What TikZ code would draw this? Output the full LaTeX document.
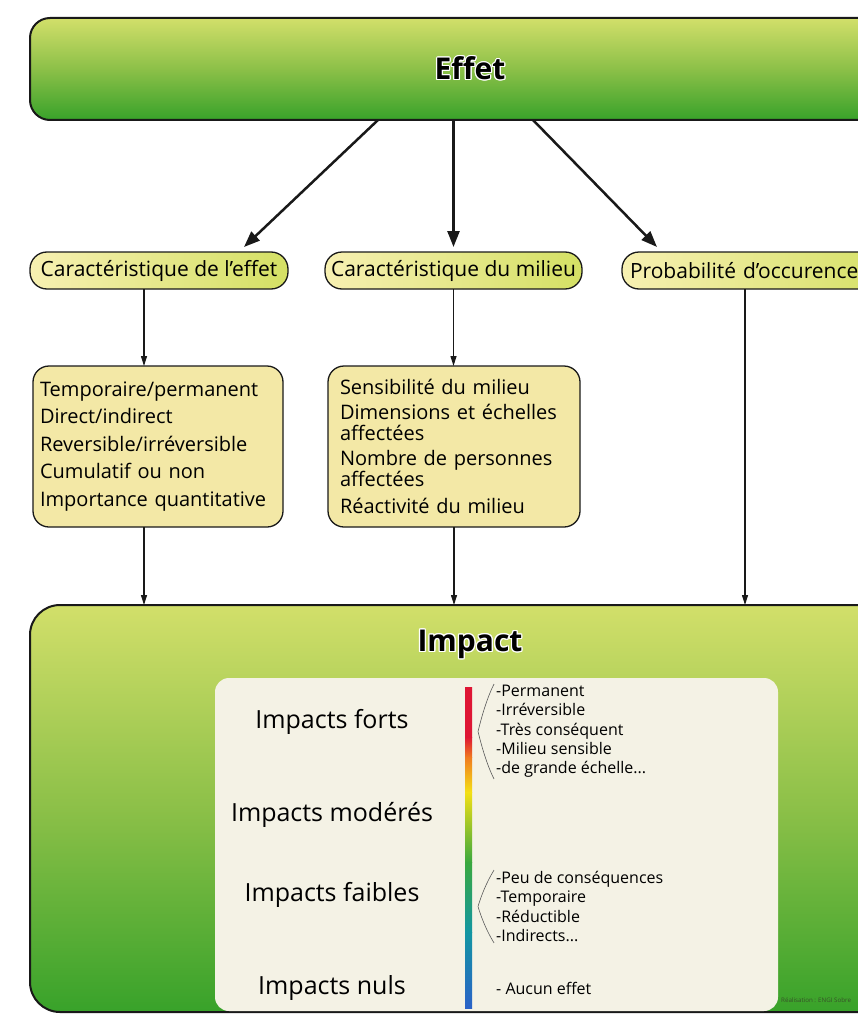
\documentclass[tikz,border=0pt]{standalone}
\usepackage{fontspec}
\setmainfont{Open Sans}
\usepackage{tikz}
\usetikzlibrary{arrows.meta}
\usepackage{contour}
\contourlength{1.2pt}
\contournumber{12}

\definecolor{boxtop}{RGB}{210,223,106}
\definecolor{boxbot}{RGB}{56,162,42}
\definecolor{boxmid}{RGB}{140,192,72}
\definecolor{pillleft}{RGB}{247,240,178}
\definecolor{pillright}{RGB}{212,224,100}
\definecolor{listfill}{RGB}{243,232,166}
\definecolor{panelfill}{RGB}{244,242,229}
\definecolor{outline}{RGB}{25,25,25}
\definecolor{barred}{RGB}{222,22,52}
\definecolor{barorange}{RGB}{240,122,32}
\definecolor{baryellow}{RGB}{244,224,22}
\definecolor{bargreen}{RGB}{58,168,62}
\definecolor{barteal}{RGB}{18,150,162}
\definecolor{barblue}{RGB}{42,98,200}
\definecolor{credittext}{RGB}{55,80,40}

\begin{document}
\begin{tikzpicture}[x=1pt,y=-1pt,
  bigbox/.style={draw=outline,line width=2pt,inner sep=0pt,outer sep=0pt},
  titletext/.style={inner sep=0pt,font=\bfseries\fontsize{30}{36}\selectfont},
  pill/.style={draw=outline,line width=1.3pt,rounded corners=17pt,minimum height=37pt,
    left color=pillleft,right color=pillright,inner sep=0pt,outer sep=0pt,
    font=\fontsize{21}{25}\selectfont},
  listbox/.style={draw=outline,line width=1.3pt,rounded corners=16pt,fill=listfill,
    minimum height=161pt,outer sep=0pt,align=left,font=\fontsize{20}{27.5}\selectfont},
  levellabel/.style={inner sep=0pt,font=\fontsize{25}{30}\selectfont},
  itemlist/.style={inner sep=1pt,align=left,anchor=west,font=\fontsize{16}{19.3}\selectfont},
  bracket/.style={draw={rgb,255:red,90;green,90;blue,90},line width=0.6pt},
  bigarrow/.style={draw=outline,line width=2.5pt,-{Triangle[length=16pt,width=12pt]}},
  smallarrow/.style={draw=outline,line width=1.1pt,-{Triangle[length=10pt,width=6pt]}}]
\path[use as bounding box] (0,0) rectangle (858,1014);
\clip (0,0) rectangle (858,1014);
\fill[white] (0,0) rectangle (858,1014);

% top box
\node[bigbox,rounded corners=20pt,top color=boxtop,bottom color=boxbot,middle color=boxmid,
  minimum width=880pt,minimum height=102pt,anchor=north west] (effet) at (30,18) {};
\node[titletext] (effettitle) at (effet.center) {\contour{white}{Effet}};

% three characteristics
\node[pill,minimum width=258pt,anchor=west] (caraceffet) at (30,270.5) {Caractéristique de l'effet};
\node[pill,minimum width=257pt,anchor=west] (caracmilieu) at (325,270.5) {Caractéristique du milieu};
\node[pill,inner xsep=8pt,text width=262pt,align=left,anchor=west] (caracproba) at (622,270.5) {Probabilité d'occurence};

\draw[bigarrow] ([xshift=-92pt]effet.south) -- ([xshift=85pt,yshift=5pt]caraceffet.north);
\draw[bigarrow] (effet.south -| caracmilieu.north) -- ([yshift=5pt]caracmilieu.north);
\draw[bigarrow] ([xshift=63pt]effet.south) -- ([xshift=35pt,yshift=5pt]caracproba.north west);

% detail lists
\node[listbox,minimum width=250pt,inner xsep=7pt,text width=236pt] (listeffet) at (158,446.5)
  {Temporaire/permanent\\Direct/indirect\\Reversible/irréversible\\Cumulatif ou non\\Importance quantitative};
\node[listbox,minimum width=252pt,inner xsep=12pt,text width=228pt] (listmilieu) at (454,446.5)
  {Sensibilité du milieu\\[-2pt]Dimensions et échelles\\[-7pt]affectées\\[-2pt]Nombre de personnes\\[-7pt]affectées\\Réactivité du milieu};

\draw[smallarrow] ([xshift=-15pt]caraceffet.south) -- ([xshift=-15pt]caraceffet.south |- listeffet.north);
\draw[smallarrow] (caracmilieu.south) -- (caracmilieu.south |- listmilieu.north);

% impact box
\node[bigbox,rounded corners=30pt,top color=boxtop,bottom color=boxbot,middle color=boxmid,
  minimum width=880pt,minimum height=407pt,anchor=north west] (impact) at (30,605) {};
\node[titletext] (impacttitle) at (470,645) {\contour{white}{Impact}};

\draw[smallarrow] ([xshift=-14pt]listeffet.south) -- ([xshift=-14pt]listeffet.south |- impact.north);
\draw[smallarrow] (listmilieu.south) -- (listmilieu.south |- impact.north);
\draw[smallarrow] ([xshift=123pt]caracproba.south west) -- ([xshift=123pt]caracproba.south west |- impact.north);

% scale panel
\path[fill=panelfill,rounded corners=14pt] (215,678) rectangle (778,1011);
\foreach \ya/\yb/\ca/\cb in {687/737.5/barred/barred,737/757.5/barred/barorange,757/792.5/barorange/baryellow,
    792/862.5/baryellow/bargreen,862/932.5/bargreen/barteal,932/1008/barteal/barblue}
  \shade[top color=\ca,bottom color=\cb] (465,\ya) rectangle (472,\yb);

\node[levellabel] (forts) at (332,722) {Impacts forts};
\node[levellabel] (moderes) at (332,815) {Impacts modérés};
\node[levellabel] (faibles) at (332,895) {Impacts faibles};
\node[levellabel] (nuls) at (332,988) {Impacts nuls};

\node[itemlist] (listforts) at (495,731.5) {-Permanent\\-Irréversible\\-Très conséquent\\-Milieu sensible\\-de grande échelle...};
\node[itemlist] (listfaibles) at (495,906.5) {-Peu de conséquences\\-Temporaire\\-Réductible\\-Indirects...};
\node[itemlist] (listnuls) at (495,988) {- Aucun effet};

\draw[bracket] ([xshift=-1pt]listforts.north west) .. controls +(-8,16) and +(3,-12) .. ([xshift=-17pt]listforts.west)
  .. controls +(3,12) and +(-8,-16) .. ([xshift=-1pt]listforts.south west);
\draw[bracket] ([xshift=-1pt]listfaibles.north west) .. controls +(-8,13) and +(3,-10) .. ([xshift=-17pt]listfaibles.west)
  .. controls +(3,10) and +(-8,-13) .. ([xshift=-1pt]listfaibles.south west);

\node[inner sep=0pt,anchor=west,text=credittext,font=\fontsize{6.2}{8}\selectfont] (credit) at (781,1000) {Réalisation : ENGI Sobre};
\end{tikzpicture}
\end{document}
